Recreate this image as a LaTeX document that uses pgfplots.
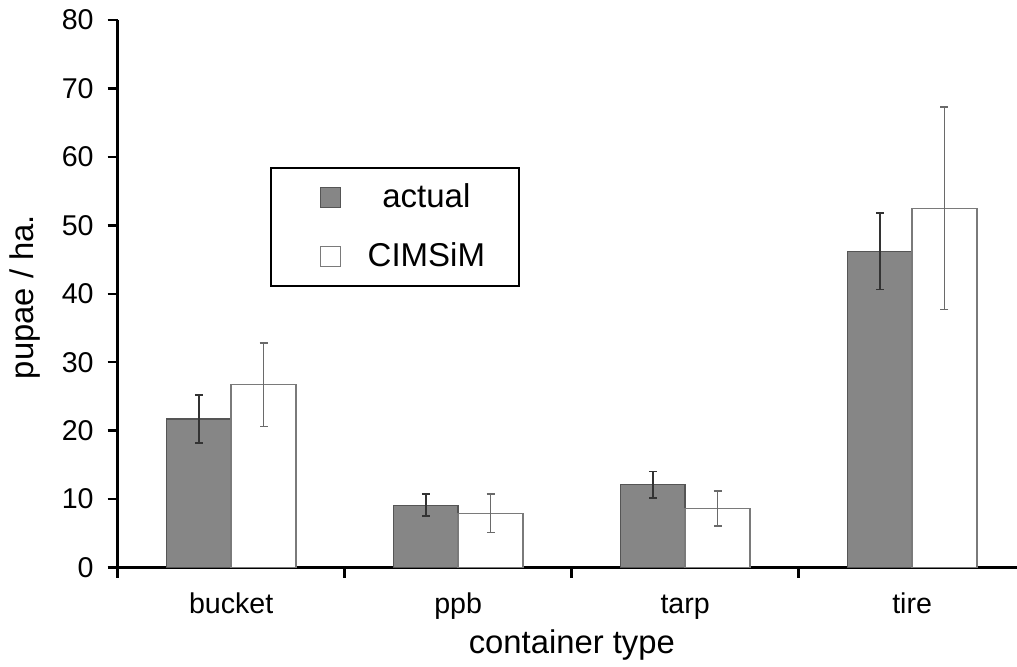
\documentclass[border=0pt]{standalone}
\usepackage{pgfplots}
\pgfplotsset{compat=1.18}
\usepackage{fontspec}
\setmainfont{Liberation Sans}
\definecolor{barfill}{HTML}{868686}
\definecolor{baredge}{HTML}{555555}
\definecolor{whiteedge}{HTML}{7A7A7A}
\definecolor{errdark}{HTML}{333333}
\definecolor{errgray}{HTML}{6A6A6A}
\begin{document}
\begin{tikzpicture}
\begin{axis}[
  name=ax,
  scale only axis,
  width=449.65pt, height=273.75pt,
  xmin=-0.5, xmax=3.462,
  ymin=0, ymax=80,
  ytick={0,10,...,80},
  axis x line=bottom, axis y line=left,
  axis line style={-, line width=1.2pt, black},
  tick align=outside,
  major tick length=5pt,
  ytick style={line width=1.2pt, black},
  xtick={0,1,2,3},
  xticklabels={bucket,ppb,tarp,tire},
  x tick style={draw=none},
  extra x ticks={-0.5,0.5,1.5,2.5},
  extra x tick labels={},
  extra x tick style={x tick style={draw=black, line width=1.2pt}},
  /pgf/number format/assume math mode=true,
  ticklabel style={font=\fontsize{14.3}{16}\selectfont},
  yticklabel style={xshift=-3.5pt},
  xticklabel style={anchor=base, yshift=-17.75pt},
  label style={font=\fontsize{16.4}{18}\selectfont},
  xlabel={container type},
  xlabel style={at={(axis description cs:0.505,-0.1562)}, anchor=base},
  ylabel={pupae / ha.},
  ylabel style={at={(axis description cs:-0.0931,0.494)}, anchor=base},
  ybar,
  bar width=0.285,
  legend style={at={(rel axis cs:0.169,0.732)}, anchor=north west,
    draw=black, line width=1.1pt, font=\fontsize{16.5}{18}\selectfont,
    inner xsep=4pt, inner ysep=6pt, row sep=12pt},
  legend image code/.code={\path[draw=none, fill=none] (0pt,0pt) -- (21pt,0pt);
    \draw[#1, line width=0.6pt] (21pt,-5pt) rectangle (31pt,5pt);},
]
\addplot[fill=barfill, draw=baredge, line width=0.7pt, bar shift=-0.1425,
  error bars/.cd, y dir=both, y explicit,
  error bar style={errdark, line width=0.8pt},
  error mark options={rotate=90, mark size=2pt, line width=0.8pt, errdark}]
  coordinates {
  (0,21.7) +- (0,3.55)
  (1,9.1) +- (0,1.6)
  (2,12.1) +- (0,1.95)
  (3,46.2) +- (0,5.6)
  };
\addlegendentry{\makebox[81pt]{actual}}
\addplot[fill=white, draw=whiteedge, line width=0.7pt, bar shift=0.1425,
  error bars/.cd, y dir=both, y explicit,
  error bar style={errgray, line width=0.8pt},
  error mark options={rotate=90, mark size=2pt, line width=0.8pt, errgray}]
  coordinates {
  (0,26.7) +- (0,6.1)
  (1,7.9) +- (0,2.8)
  (2,8.6) +- (0,2.55)
  (3,52.5) +- (0,14.8)
  };
\addlegendentry{\makebox[81pt]{CIMSiM}}
\end{axis}
\pgfresetboundingbox
\path (ax.south west) ++(-58.85pt,-49.25pt) rectangle ++(508.5pt,333pt);
\end{tikzpicture}
\end{document}
